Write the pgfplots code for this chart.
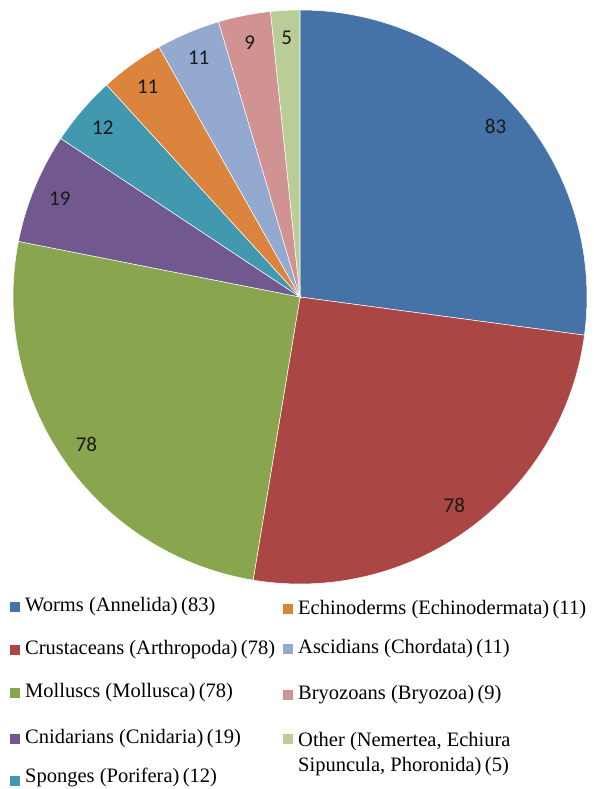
\documentclass[border=0pt]{standalone}
\usepackage{pgfplots}
\pgfplotsset{compat=1.18}
\usepackage{pgfplotstable}
\usepackage{fontspec}
\setmainfont{Liberation Serif}
\newfontfamily\calibri{Carlito}
\newfontfamily\tnr{Liberation Serif}
\newcommand\numfont{\calibri\fontsize{21}{25}\selectfont}
\newcommand\legfont{\tnr\fontsize{20.5}{25}\selectfont}

\definecolor{worms}{HTML}{4572A7}
\definecolor{crust}{HTML}{AA4643}
\definecolor{moll}{HTML}{89A54E}
\definecolor{cnid}{HTML}{71588F}
\definecolor{spong}{HTML}{4198AF}
\definecolor{echin}{HTML}{DB843D}
\definecolor{ascid}{HTML}{93A9CF}
\definecolor{bryo}{HTML}{D19392}
\definecolor{other}{HTML}{B9CD96}

% slices clockwise from 12 o'clock
\pgfplotstableread{
value colour
83 worms
78 crust
78 moll
19 cnid
12 spong
11 echin
11 ascid
9 bryo
5 other
}\piedata

\begin{document}
\begin{tikzpicture}
\begin{axis}[
  width=590pt, height=789pt, scale only axis,
  xmin=0, xmax=590, ymin=0, ymax=789,
  hide axis, clip=false,
]
% keep the full canvas in the bounding box
\path (axis cs:0,0) rectangle (axis cs:590,789);
\def\cx{300}\def\cy{492}\def\R{287}\def\total{306}
\def\curang{90}
\pgfplotsforeachungrouped \i in {0,...,8}{%
  \pgfplotstablegetelem{\i}{value}\of{\piedata}\let\val\pgfplotsretval
  \pgfplotstablegetelem{\i}{colour}\of{\piedata}\let\col\pgfplotsretval
  \pgfmathsetmacro{\endang}{\curang-\val/\total*360}
  \pgfmathsetmacro{\midang}{(\curang+\endang)/2}
  \pgfmathsetmacro{\sx}{\cx+\R*cos(\curang)}
  \pgfmathsetmacro{\sy}{\cy+\R*sin(\curang)}
  \pgfmathsetmacro{\lx}{\cx+0.905*\R*cos(\midang)}
  \pgfmathsetmacro{\ly}{\cy+0.905*\R*sin(\midang)}
  \edef\temp{%
    \noexpand\fill[\col, draw=white, line width=0.5pt]
      (axis cs:\cx,\cy) -- (axis cs:\sx,\sy)
      arc[start angle=\curang, end angle=\endang, radius=\R pt] -- cycle;
    \noexpand\node[font=\noexpand\numfont, text=black!90] at (axis cs:\lx,\ly) {\val};
  }%
  \temp
  \global\let\curang\endang
}

% legend, left column
\fill[worms] (axis cs:10,177) rectangle (axis cs:20,187);
\node[anchor=base west, inner sep=0, font=\legfont] at (axis cs:25,177) {Worms (Annelida)\,(83)};
\fill[crust] (axis cs:10,134) rectangle (axis cs:20,144);
\node[anchor=base west, inner sep=0, font=\legfont] at (axis cs:25,134) {Crustaceans (Arthropoda)\,(78)};
\fill[moll] (axis cs:10,91) rectangle (axis cs:20,101);
\node[anchor=base west, inner sep=0, font=\legfont] at (axis cs:25,91) {Molluscs (Mollusca)\,(78)};
\fill[cnid] (axis cs:10,45) rectangle (axis cs:20,55);
\node[anchor=base west, inner sep=0, font=\legfont] at (axis cs:25,45) {Cnidarians (Cnidaria)\,(19)};
\fill[spong] (axis cs:10,3) rectangle (axis cs:20,13);
\node[anchor=base west, inner sep=0, font=\legfont] at (axis cs:25,6) {Sponges (Porifera)\,(12)};

% legend, right column
\fill[echin] (axis cs:283,175) rectangle (axis cs:293,185);
\node[anchor=base west, inner sep=0, font=\legfont] at (axis cs:298,174) {Echinoderms (Echinodermata)\,(11)};
\fill[ascid] (axis cs:283,135) rectangle (axis cs:293,145);
\node[anchor=base west, inner sep=0, font=\legfont] at (axis cs:298,135) {Ascidians (Chordata)\,(11)};
\fill[bryo] (axis cs:283,89) rectangle (axis cs:293,99);
\node[anchor=base west, inner sep=0, font=\legfont] at (axis cs:298,89) {Bryozoans (Bryozoa)\,(9)};
\fill[other] (axis cs:283,45) rectangle (axis cs:293,55);
\node[anchor=base west, inner sep=0, font=\legfont] at (axis cs:298,42) {Other (Nemertea, Echiura};
\node[anchor=base west, inner sep=0, font=\legfont] at (axis cs:298,17) {Sipuncula, Phoronida)\,(5)};
\end{axis}
\end{tikzpicture}
\end{document}
